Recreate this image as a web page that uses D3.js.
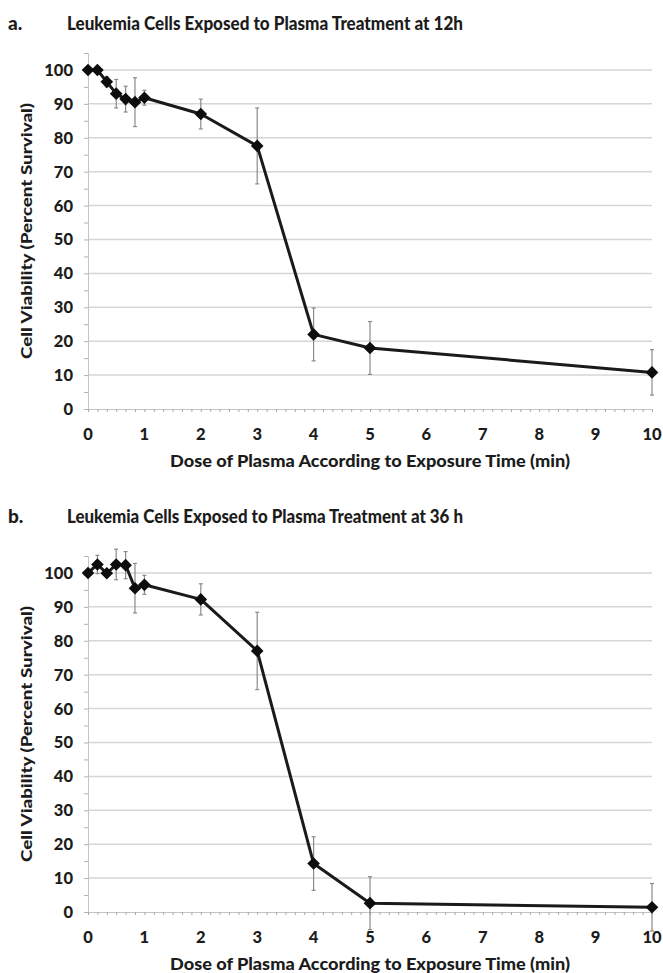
<!DOCTYPE html>
<html>
<head>
<meta charset="utf-8">
<script src="https://cdn.jsdelivr.net/npm/d3@7"></script>
<style>
  body { margin: 0; background: #fff; }
  text { font-family: Lato, "Open Sans", sans-serif; font-weight: 900; fill: #1c1c1c; }
</style>
</head>
<body>
<script>
"use strict";

// dose in minutes (10 s steps up to 1 min, then whole minutes)
const doses = [0, 0.167, 0.333, 0.5, 0.667, 0.833, 1, 2, 3, 4, 5, 10];

// panel a : 12 h
const viability12 = [100, 100, 96.5, 93, 91.4, 90.5, 91.8, 87, 77.6, 22, 18, 10.8];
const error12 = [0, 0, 1.5, 4.2, 3.8, 7.2, 2.2, 4.4, 11.2, 7.8, 7.8, 6.7];

// panel b : 36 h
const viability36 = [100, 102.5, 99.9, 102.5, 102.3, 95.5, 96.5, 92.2, 77, 14.3, 2.6, 1.4];
const error36 = [0, 2.7, 0, 4.5, 4, 7.3, 2.8, 4.6, 11.4, 7.9, 7.8, 7];

const xTicks = [0, 1, 2, 3, 4, 5, 6, 7, 8, 9, 10];
const yTicks = [0, 10, 20, 30, 40, 50, 60, 70, 80, 90, 100];

const panels = [
  { letter: "a.", title: "Leukemia Cells Exposed to Plasma Treatment at 12h",
    values: viability12, errors: error12, titleY: 30, top: 53, bottom: 409 },
  { letter: "b.", title: "Leukemia Cells Exposed to Plasma Treatment at 36 h",
    values: viability36, errors: error36, titleY: 523, top: 556, bottom: 912 }
];

const W = 663, H = 973;
const left = 88, right = 652;

const svg = d3.select("body").append("svg").attr("width", W).attr("height", H);

const x = d3.scaleLinear().domain([0, 10]).range([left, right]);

panels.forEach((p) => {
  const y = d3.scaleLinear().domain([0, 105]).range([p.bottom, p.top]);
  const g = svg.append("g");

  // titles
  g.append("text").attr("x", 8).attr("y", p.titleY).attr("font-size", 19).text(p.letter);
  g.append("text").attr("x", 67).attr("y", p.titleY).attr("font-size", 19)
    .attr("textLength", 396).attr("lengthAdjust", "spacingAndGlyphs").text(p.title);

  // gridlines
  g.append("g").selectAll("line").data(yTicks.filter((d) => d > 0)).join("line")
    .attr("x1", left).attr("x2", right)
    .attr("y1", (d) => y(d)).attr("y2", (d) => y(d))
    .attr("stroke", "#d6d6d6").attr("stroke-width", 1.5);

  // y axis (minor every 5)
  const yAxis = d3.axisLeft(y).tickValues(d3.range(0, 106, 5)).tickSize(4).tickFormat("");
  g.append("g").attr("transform", `translate(${left},0)`).call(yAxis)
    .call((a) => a.select(".domain").attr("stroke", "#c4c4c4"))
    .call((a) => a.selectAll(".tick line").attr("stroke", "#b0b0b0"));

  g.append("g").selectAll("text").data(yTicks).join("text")
    .attr("x", 73).attr("y", (d) => y(d)).attr("dy", "0.36em")
    .attr("text-anchor", "end").attr("font-size", 16.5).text((d) => d);

  // x axis (minor every 1/6 min)
  const xAxis = d3.axisBottom(x).tickValues(d3.range(0, 61).map((i) => i / 6))
    .tickSize(3).tickFormat("");
  g.append("g").attr("transform", `translate(0,${p.bottom})`).call(xAxis)
    .call((a) => a.select(".domain").attr("stroke", "#c4c4c4"))
    .call((a) => a.selectAll(".tick line").attr("stroke", "#a8a8a8"));

  g.append("g").selectAll("text").data(xTicks).join("text")
    .attr("x", (d) => x(d)).attr("y", p.bottom + 31)
    .attr("text-anchor", "middle").attr("font-size", 16.5).text((d) => d);

  g.append("text").attr("x", (left + right) / 2).attr("y", p.bottom + 58)
    .attr("text-anchor", "middle").attr("font-size", 16)
    .attr("textLength", 400).attr("lengthAdjust", "spacingAndGlyphs")
    .text("Dose of Plasma According to Exposure Time (min)");

  g.append("text")
    .attr("transform", `translate(32,${(p.top + p.bottom) / 2}) rotate(-90)`)
    .attr("text-anchor", "middle").attr("font-size", 15.5)
    .attr("textLength", 256).attr("lengthAdjust", "spacingAndGlyphs")
    .text("Cell Viability (Percent Survival)");

  const pts = doses.map((d, i) => ({ dose: d, v: p.values[i], e: p.errors[i] }));

  // error bars
  const eb = g.append("g").attr("stroke", "#8a8a8a").attr("stroke-width", 1.2)
    .selectAll("g").data(pts.filter((d) => d.e > 0)).join("g");
  eb.append("line")
    .attr("x1", (d) => x(d.dose)).attr("x2", (d) => x(d.dose))
    .attr("y1", (d) => y(d.v + d.e)).attr("y2", (d) => y(d.v - d.e));
  eb.append("line")
    .attr("x1", (d) => x(d.dose) - 2).attr("x2", (d) => x(d.dose) + 2)
    .attr("y1", (d) => y(d.v + d.e)).attr("y2", (d) => y(d.v + d.e));
  eb.append("line")
    .attr("x1", (d) => x(d.dose) - 2).attr("x2", (d) => x(d.dose) + 2)
    .attr("y1", (d) => y(d.v - d.e)).attr("y2", (d) => y(d.v - d.e));

  // line
  g.append("path").datum(pts)
    .attr("fill", "none").attr("stroke", "#1a1a1a").attr("stroke-width", 3)
    .attr("stroke-linejoin", "round")
    .attr("d", d3.line().x((d) => x(d.dose)).y((d) => y(d.v)));

  // diamond markers
  g.append("g").selectAll("path").data(pts).join("path")
    .attr("transform", (d) => `translate(${x(d.dose)},${y(d.v)}) rotate(45)`)
    .attr("d", d3.symbol(d3.symbolSquare, 80))
    .attr("fill", "#0d0d0d");
});
</script>
</body>
</html>
